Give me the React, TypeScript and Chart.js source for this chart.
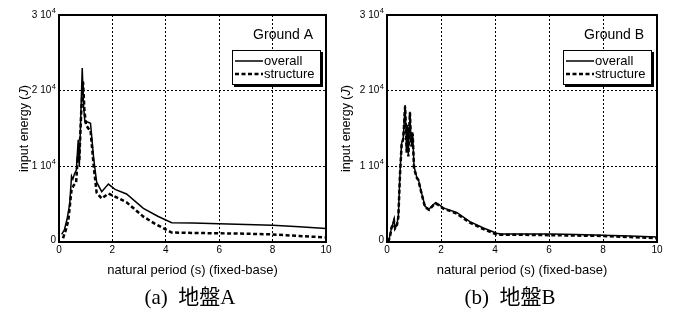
import React, { useEffect, useRef } from "react";
import { Chart, registerables } from "chart.js";

Chart.register(...registerables);

// ---------- data ----------
const xTickValues = [0, 2, 4, 6, 8, 10];
const yTickValues = [0, 10000, 20000, 30000];
const yTickBase = ["0", "1 10", "2 10", "3 10"];
const yTickExp = ["", "4", "4", "4"];
const legendLabels = ["overall", "structure"];
const groundLabels = ["Ground A", "Ground B"];
const captions = ["(a)  地盤A", "(b)  地盤B"];
const xTitle = "natural period (s) (fixed-base)";

// Ground A
const periodAOverall = [0.1, 0.2, 0.3, 0.4, 0.47, 0.52, 0.58, 0.65, 0.72, 0.76, 0.82, 0.87, 0.92, 0.97, 1.05, 1.18, 1.3, 1.41, 1.6, 1.85, 2.1, 2.53, 3.16, 3.7, 4.22, 5, 6, 7, 8, 9, 10];
const energyAOverall = [1000, 1600, 3000, 5000, 8700, 8300, 9000, 9500, 13500, 10000, 17000, 23000, 18000, 15900, 15900, 15700, 11000, 7900, 6650, 7650, 6950, 6350, 4450, 3400, 2550, 2500, 2400, 2300, 2200, 2000, 1800];
const periodAStructure = [0.15, 0.25, 0.35, 0.47, 0.55, 0.64, 0.7, 0.76, 0.83, 0.9, 0.95, 1.01, 1.1, 1.18, 1.3, 1.41, 1.6, 1.85, 2.1, 2.53, 3.16, 3.6, 4.03, 4.22, 5, 6, 7, 8, 8.5, 9, 10];
const energyAStructure = [500, 1500, 2900, 6900, 7500, 7800, 11000, 10800, 17000, 21200, 17500, 15500, 15000, 14800, 10000, 6500, 5750, 6400, 6000, 5250, 3350, 2400, 1600, 1250, 1200, 1150, 1100, 1000, 900, 800, 600];

// Ground B
const periodBOverall = [0.05, 0.12, 0.17, 0.22, 0.26, 0.3, 0.36, 0.42, 0.48, 0.54, 0.6, 0.63, 0.67, 0.71, 0.73, 0.76, 0.79, 0.82, 0.85, 0.88, 0.91, 0.95, 1.0, 1.1, 1.16, 1.28, 1.41, 1.56, 1.7, 1.8, 1.9, 2.09, 2.3, 2.58, 3.07, 3.57, 4.06, 4.2, 5, 6.1, 7, 8, 9, 10];
const energyBOverall = [0, 1000, 2000, 2400, 2900, 1900, 2200, 3400, 9000, 13000, 13700, 15500, 18100, 14000, 12000, 15500, 11500, 15000, 17200, 14000, 12800, 14500, 10000, 8600, 8300, 6500, 4700, 4350, 4900, 5200, 5000, 4500, 4250, 3900, 2700, 1850, 1150, 1050, 1050, 1050, 1000, 900, 780, 650];
const periodBStructure = [0.05, 0.12, 0.17, 0.22, 0.26, 0.3, 0.36, 0.42, 0.48, 0.54, 0.6, 0.63, 0.67, 0.71, 0.73, 0.76, 0.79, 0.82, 0.85, 0.88, 0.91, 0.95, 1.0, 1.1, 1.16, 1.28, 1.41, 1.56, 1.7, 1.8, 1.9, 2.09, 2.3, 2.58, 3.07, 3.57, 4.06, 4.2, 5, 6.1, 7, 8, 9, 10];
const energyBStructure = [0, 900, 1900, 2300, 2800, 1800, 2100, 3300, 8800, 12800, 13600, 15300, 17900, 13800, 11800, 15300, 11300, 14800, 17100, 13800, 12600, 14300, 9800, 8500, 8200, 6400, 4600, 4250, 4800, 5100, 4900, 4400, 4150, 3750, 2550, 1700, 1000, 950, 950, 900, 850, 800, 650, 500];

// ---------- helpers ----------
const FONT = "'Liberation Sans', Arial, Helvetica, sans-serif";

function pairs(xs: number[], ys: number[]) {
  return xs.map((x, i) => ({ x, y: ys[i] }));
}

type PanelCfg = {
  ground: string;
  overallX: number[];
  overallY: number[];
  structX: number[];
  structY: number[];
  width: number;
  height: number;
  areaLeft: number;
  areaRight: number;
  areaTop: number;
  areaBottom: number;
  yTitleOffset: number;
};

function makeDecorPlugin(cfg: PanelCfg) {
  return {
    id: "decor",
    afterDatasetsDraw(chart: any) {
      const ctx: CanvasRenderingContext2D = chart.ctx;
      const { left, right, top, bottom } = chart.chartArea;
      const yScale = chart.scales.y;
      ctx.save();
      // frame
      ctx.strokeStyle = "#000";
      ctx.lineWidth = 2;
      ctx.setLineDash([]);
      ctx.strokeRect(left, top, right - left, bottom - top);

      // y tick labels
      ctx.fillStyle = "#000";
      ctx.textBaseline = "middle";
      yTickValues.forEach((v, i) => {
        const py = yScale.getPixelForValue(v);
        const exp = yTickExp[i];
        let xr = left - 3;
        if (exp) {
          ctx.font = `7.5px ${FONT}`;
          ctx.textAlign = "right";
          ctx.fillText(exp, xr, py - 4);
          xr -= ctx.measureText(exp).width + 0.5;
        }
        ctx.font = `10px ${FONT}`;
        ctx.textAlign = "right";
        ctx.fillText(yTickBase[i], xr, v === 0 ? py - 2 : py);
      });

      // y title
      ctx.save();
      ctx.translate(left - cfg.yTitleOffset, (top + bottom) / 2);
      ctx.rotate(-Math.PI / 2);
      ctx.textBaseline = "middle";
      const t1 = "input energy (";
      const t2 = "J";
      const t3 = ")";
      ctx.font = `12.5px ${FONT}`;
      const w1 = ctx.measureText(t1).width;
      const w3 = ctx.measureText(t3).width;
      ctx.font = `italic 12.5px ${FONT}`;
      const w2 = ctx.measureText(t2).width;
      let sx = -(w1 + w2 + w3) / 2;
      ctx.textAlign = "left";
      ctx.font = `12.5px ${FONT}`;
      ctx.fillText(t1, sx, 0);
      sx += w1;
      ctx.font = `italic 12.5px ${FONT}`;
      ctx.fillText(t2, sx, 0);
      sx += w2;
      ctx.font = `12.5px ${FONT}`;
      ctx.fillText(t3, sx, 0);
      ctx.restore();

      // x title
      ctx.font = `13px ${FONT}`;
      ctx.textAlign = "center";
      ctx.textBaseline = "middle";
      ctx.fillText(xTitle, (left + right) / 2, bottom + 28);

      // ground label
      ctx.font = `14px ${FONT}`;
      ctx.textAlign = "right";
      ctx.fillText(cfg.ground, right - 13, top + 20);

      // legend
      const bw = 89;
      const bh = 35;
      const bx = right - 5 - bw;
      const by = top + 35;
      ctx.fillStyle = "#000";
      ctx.fillRect(bx + 2, by + 2, bw, bh);
      ctx.fillStyle = "#fff";
      ctx.fillRect(bx, by, bw, bh);
      ctx.strokeStyle = "#000";
      ctx.lineWidth = 1;
      ctx.strokeRect(bx + 0.5, by + 0.5, bw - 1, bh - 1);
      // sample lines
      ctx.beginPath();
      ctx.lineWidth = 1.5;
      ctx.moveTo(bx + 3, by + 11);
      ctx.lineTo(bx + 31, by + 11);
      ctx.stroke();
      ctx.beginPath();
      ctx.lineWidth = 2.5;
      ctx.setLineDash([4, 2.5]);
      ctx.moveTo(bx + 3, by + 24);
      ctx.lineTo(bx + 31, by + 24);
      ctx.stroke();
      ctx.setLineDash([]);
      ctx.fillStyle = "#000";
      ctx.font = `13px ${FONT}`;
      ctx.textAlign = "left";
      ctx.textBaseline = "middle";
      ctx.fillText(legendLabels[0], bx + 32, by + 11);
      ctx.fillText(legendLabels[1], bx + 32, by + 24);
      ctx.restore();
    },
  };
}

function Panel({ cfg, left }: { cfg: PanelCfg; left: number }) {
  const ref = useRef<HTMLCanvasElement | null>(null);
  useEffect(() => {
    if (!ref.current) return;
    const chart = new Chart(ref.current, {
      type: "line",
      data: {
        datasets: [
          {
            label: legendLabels[0],
            data: pairs(cfg.overallX, cfg.overallY),
            borderColor: "#000",
            borderWidth: 1.5,
            pointRadius: 0,
            tension: 0,
            fill: false,
          },
          {
            label: legendLabels[1],
            data: pairs(cfg.structX, cfg.structY),
            borderColor: "#000",
            borderWidth: 2.5,
            borderDash: [4, 2.5],
            pointRadius: 0,
            tension: 0,
            fill: false,
          },
        ],
      },
      options: {
        responsive: false,
        animation: false,
        events: [],
        layout: {
          padding: {
            left: 0,
            top: cfg.areaTop,
            right: cfg.width - cfg.areaRight,
            bottom: 0,
          },
        },
        plugins: {
          legend: { display: false },
          tooltip: { enabled: false },
          title: { display: false },
        },
        scales: {
          x: {
            type: "linear",
            min: 0,
            max: 10,
            afterBuildTicks: (scale: any) => {
              scale.ticks = xTickValues.map((v) => ({ value: v }));
            },
            afterFit: (scale: any) => {
              scale.height = cfg.height - cfg.areaBottom;
            },
            ticks: {
              color: "#000",
              font: { family: FONT, size: 10 },
              padding: 2,
              maxRotation: 0,
              autoSkip: false,
            },
            grid: {
              drawTicks: false,
              color: (c: any) =>
                c.tick && (c.tick.value === 0 || c.tick.value === 10) ? "rgba(0,0,0,0)" : "#000",
              lineWidth: 1,
            },
            border: { display: false, dash: [2, 2] },
          },
          y: {
            type: "linear",
            min: 0,
            max: 30000,
            afterBuildTicks: (scale: any) => {
              scale.ticks = yTickValues.map((v) => ({ value: v }));
            },
            afterFit: (scale: any) => {
              scale.width = cfg.areaLeft;
            },
            ticks: { display: false },
            grid: {
              drawTicks: false,
              color: (c: any) =>
                c.tick && (c.tick.value === 0 || c.tick.value === 30000) ? "rgba(0,0,0,0)" : "#000",
              lineWidth: 1,
            },
            border: { display: false, dash: [2, 2] },
          },
        },
      } as any,
      plugins: [makeDecorPlugin(cfg)],
    });
    return () => chart.destroy();
  }, [cfg]);
  return (
    <canvas
      ref={ref}
      width={cfg.width}
      height={cfg.height}
      style={{ position: "absolute", left, top: 0, width: cfg.width, height: cfg.height }}
    />
  );
}

const cfgA: PanelCfg = {
  ground: groundLabels[0],
  overallX: periodAOverall,
  overallY: energyAOverall,
  structX: periodAStructure,
  structY: energyAStructure,
  width: 337,
  height: 285,
  areaLeft: 59,
  areaRight: 326,
  areaTop: 15,
  areaBottom: 242,
  yTitleOffset: 34,
};

const cfgB: PanelCfg = {
  ground: groundLabels[1],
  overallX: periodBOverall,
  overallY: energyBOverall,
  structX: periodBStructure,
  structY: energyBStructure,
  width: 338,
  height: 285,
  areaLeft: 50,
  areaRight: 320,
  areaTop: 15,
  areaBottom: 242,
  yTitleOffset: 40,
};

export default function App() {
  return (
    <div
      style={{
        position: "absolute",
        left: 0,
        top: 0,
        width: 675,
        height: 320,
        background: "#fff",
        overflow: "hidden",
      }}
    >
      <Panel cfg={cfgA} left={0} />
      <Panel cfg={cfgB} left={337} />
      {[190, 510].map((cx, i) => (
        <div
          key={i}
          style={{
            position: "absolute",
            left: cx,
            top: 283,
            transform: "translateX(-50%)",
            whiteSpace: "pre",
            fontFamily: "'Liberation Serif', 'Noto Sans CJK JP', serif",
            fontSize: 21,
            lineHeight: "28px",
            color: "#000",
          }}
        >
          {captions[i]}
        </div>
      ))}
    </div>
  );
}
